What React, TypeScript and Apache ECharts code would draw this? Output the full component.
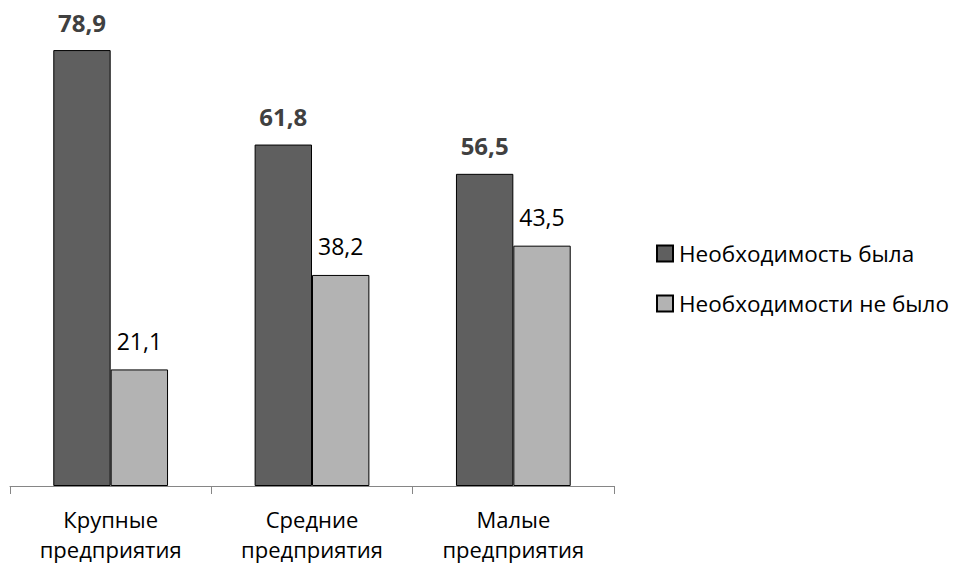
import React, { useEffect, useRef } from "react";
import * as echarts from "echarts";

const categories = ["Крупные\nпредприятия", "Средние\nпредприятия", "Малые\nпредприятия"];
const seriesNames = ["Необходимость была", "Необходимости не было"];
const wasNeeded = [78.9, 61.8, 56.5];
const notNeeded = [21.1, 38.2, 43.5];

const FONT = "'Open Sans', 'Noto Sans', sans-serif";
const fmt = (p: any) => String(p.value).replace(".", ",");

export default function App() {
  const ref = useRef<HTMLDivElement>(null);
  useEffect(() => {
    if (!ref.current) return;
    const chart = echarts.init(ref.current, undefined, { renderer: "svg" });
    chart.setOption({
      animation: false,
      backgroundColor: "#ffffff",
      grid: { left: 10, right: 346, top: 44, bottom: 74, containLabel: false },
      legend: {
        orient: "vertical",
        left: 651,
        top: 237,
        itemWidth: 16,
        itemHeight: 16,
        itemGap: 27,
        icon: "rect",
        textStyle: { fontFamily: FONT, fontSize: 22.5, color: "#000", padding: [0, 0, 0, 1] },
        data: seriesNames,
      },
      xAxis: {
        type: "category",
        data: categories,
        axisLine: { show: true, lineStyle: { color: "#868686", width: 1 } },
        axisTick: { show: true, length: 8, lineStyle: { color: "#868686" } },
        axisLabel: {
          fontFamily: FONT,
          fontSize: 22,
          color: "#000",
          lineHeight: 30,
          margin: 18,
        },
      },
      yAxis: {
        type: "value",
        min: 0,
        max: 80,
        show: false,
        splitLine: { show: false },
      },
      series: [
        {
          name: seriesNames[0],
          type: "bar",
          data: wasNeeded,
          barGap: "0%",
          barCategoryGap: "43%",
          itemStyle: { color: "#5f5f5f", borderColor: "#000", borderWidth: 1 },
          label: {
            show: true,
            position: "top",
            distance: 16,
            formatter: fmt,
            fontFamily: FONT,
            fontSize: 24,
            fontWeight: "bold",
            color: "#404040",
          },
        },
        {
          name: seriesNames[1],
          type: "bar",
          data: notNeeded,
          itemStyle: { color: "#b3b3b3", borderColor: "#000", borderWidth: 1 },
          label: {
            show: true,
            position: "top",
            distance: 17,
            formatter: fmt,
            fontFamily: FONT,
            fontSize: 23,
            color: "#000",
          },
        },
      ],
    });
    return () => chart.dispose();
  }, []);
  return (
    <div
      ref={ref}
      style={{ position: "fixed", left: 0, top: 0, width: 960, height: 564 }}
    />
  );
}
